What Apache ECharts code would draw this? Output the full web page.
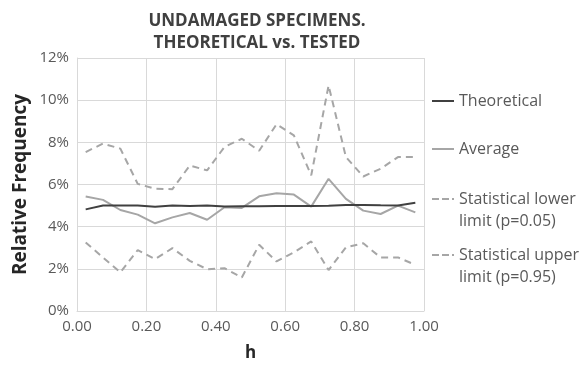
<!DOCTYPE html>
<html>
<head>
<meta charset="utf-8">
<title>Undamaged specimens</title>
<script src="https://cdn.jsdelivr.net/npm/echarts@6/dist/echarts.min.js"></script>
<style>
  html, body { margin: 0; padding: 0; background: #fff; }
  #main { width: 584px; height: 367px; }
</style>
</head>
<body>
<div id="main"></div>
<script type="text/javascript">
    // h values (bin centres) and relative frequency in %
    var hValues = [0.025, 0.075, 0.125, 0.175, 0.225, 0.275, 0.325, 0.375, 0.425, 0.475,
                   0.525, 0.575, 0.625, 0.675, 0.725, 0.775, 0.825, 0.875, 0.925, 0.975];
    var theoretical = [4.82, 5.0, 5.0, 5.0, 4.95, 5.0, 4.98, 5.0, 4.96, 4.97,
                       4.97, 4.98, 4.98, 4.98, 4.99, 5.03, 5.03, 5.01, 5.0, 5.13];
    var average = [5.43, 5.27, 4.79, 4.57, 4.16, 4.44, 4.65, 4.33, 4.92, 4.89,
                   5.44, 5.59, 5.52, 4.95, 6.27, 5.32, 4.76, 4.6, 5.0, 4.68];
    var lowerLimit = [3.25, 2.54, 1.83, 2.89, 2.46, 2.98, 2.38, 1.98, 2.03, 1.59,
                      3.14, 2.35, 2.78, 3.3, 1.94, 3.02, 3.21, 2.54, 2.54, 2.19];
    var upperLimit = [7.54, 7.94, 7.7, 6.03, 5.8, 5.78, 6.9, 6.67, 7.78, 8.17,
                      7.6, 8.86, 8.33, 6.43, 10.7, 7.3, 6.38, 6.75, 7.3, 7.3];
    var seriesNames = ['Theoretical', 'Average',
                       'Statistical lower\nlimit (p=0.05)', 'Statistical upper\nlimit (p=0.95)'];

    function pairs(arr) {
        return arr.map(function (v, i) { return [hValues[i], v]; });
    }

    var myChart = echarts.init(document.getElementById('main'));
    var font = '"Open Sans", sans-serif';
    var legendText = { fontFamily: font, fontSize: 16, color: '#595959', lineHeight: 22 };
    var solidIcon = 'path://M0,0h22v2h-22z';
    // dashes on the top line, a speck at the bottom keeps the icon box tall
    var dashIcon = 'path://M0,0h7v2h-7z M10,0h7v2h-7z M20,0h2v2h-2z M0,23.99h0.01v0.01h-0.01z';

    function legendAt(name, icon, color, top, h) {
        return {
            data: [{ name: name, icon: icon, itemStyle: { color: color } }],
            left: 427, top: top, orient: 'vertical',
            itemWidth: 22, itemHeight: h, selectedMode: false,
            textStyle: legendText
        };
    }

    var option = {
        animation: false,
        title: {
            text: 'UNDAMAGED SPECIMENS.\nTHEORETICAL vs. TESTED',
            left: 252, top: 5, textAlign: 'center',
            textStyle: { fontFamily: font, fontSize: 17, fontWeight: 'bold', color: '#404040', lineHeight: 22 }
        },
        legend: [
            legendAt(seriesNames[0], solidIcon, '#404040', 85, 2),
            legendAt(seriesNames[1], solidIcon, '#a6a6a6', 133, 2),
            legendAt(seriesNames[2], dashIcon, '#a6a6a6', 183, 24),
            legendAt(seriesNames[3], dashIcon, '#a6a6a6', 239, 24)
        ],
        grid: { left: 77, right: 160, top: 58, bottom: 56, outerBoundsMode: 'none' },
        xAxis: {
            type: 'value', min: 0, max: 1, interval: 0.2,
            name: 'h', nameLocation: 'middle', nameGap: 34,
            nameTextStyle: { fontFamily: font, fontSize: 17, fontWeight: 'bold', color: '#262626' },
            axisLine: { lineStyle: { color: '#d9d9d9' } },
            axisTick: { show: false },
            axisLabel: { fontFamily: font, fontSize: 15, color: '#595959', margin: 8,
                         formatter: function (v) { return v.toFixed(2); } },
            splitLine: { lineStyle: { color: '#d9d9d9' } }
        },
        yAxis: {
            type: 'value', min: 0, max: 12, interval: 2,
            name: 'Relative Frequency', nameLocation: 'middle', nameGap: 47,
            nameMoveOverlap: false,
            nameTextStyle: { fontFamily: font, fontSize: 19, fontWeight: 'bold', color: '#262626' },
            axisLine: { show: true, lineStyle: { color: '#d9d9d9' } },
            axisTick: { show: false },
            axisLabel: { fontFamily: font, fontSize: 15, color: '#595959', margin: 8,
                         formatter: function (v) { return v + '%'; } },
            splitLine: { lineStyle: { color: '#d9d9d9' } }
        },
        series: [
            {
                name: seriesNames[0], type: 'line', data: pairs(theoretical),
                symbol: 'none', z: 5,
                lineStyle: { color: '#404040', width: 2 }, itemStyle: { color: '#404040' }
            },
            {
                name: seriesNames[1], type: 'line', data: pairs(average),
                symbol: 'none',
                lineStyle: { color: '#a6a6a6', width: 2 }, itemStyle: { color: '#a6a6a6' }
            },
            {
                name: seriesNames[2], type: 'line', data: pairs(lowerLimit),
                symbol: 'none',
                lineStyle: { color: '#a6a6a6', width: 2, type: [7, 5] }, itemStyle: { color: '#a6a6a6' }
            },
            {
                name: seriesNames[3], type: 'line', data: pairs(upperLimit),
                symbol: 'none',
                lineStyle: { color: '#a6a6a6', width: 2, type: [7, 5] }, itemStyle: { color: '#a6a6a6' }
            }
        ]
    };

    myChart.setOption(option);
</script>
</body>
</html>
